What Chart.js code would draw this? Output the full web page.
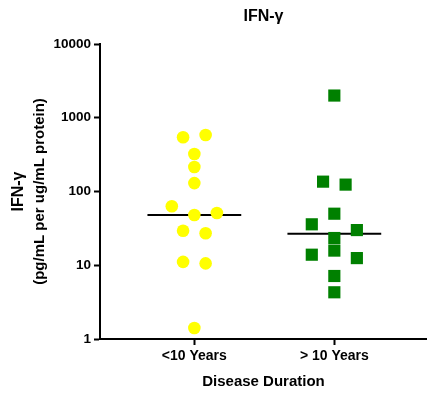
<!DOCTYPE html>
<html>
<head>
<meta charset="utf-8">
<style>
  html, body { margin: 0; padding: 0; background: #fff; }
  #wrap { width: 427px; height: 396px; position: relative; }
</style>
<script src="https://cdn.jsdelivr.net/npm/chart.js@4/dist/chart.umd.min.js"></script>
</head>
<body>
<div id="wrap"><canvas id="chart" width="427" height="396"></canvas></div>
<script>
// Groups along the x axis
const groups = ['<10 Years', '> 10 Years'];
// IFN-γ (pg/mL per ug/mL protein), one value per subject
const underTen = [543, 584, 322, 215, 130, 63, 48, 51, 29.4, 27.1, 11.1, 10.6, 1.41];
const overTen = [2000, 136, 124, 50, 35.9, 23.4, 30, 13.9, 15.8, 12.5, 7.15, 4.3];
// Group medians
const medians = [48, 26.7];
// Y tick values
const yTicks = [1, 10, 100, 1000, 10000];

const FONT = '"Liberation Sans", Arial, sans-serif';

// Column-scatter layout: points whose values sit close together on the
// log axis share a row and are spread sideways in entry order.
function spread(values, center) {
  const idx = values.map((v, i) => i).sort((a, b) => values[b] - values[a]);
  const rows = [];
  let row = [];
  idx.forEach((i, k) => {
    if (k > 0 && Math.log10(values[idx[k - 1]]) - Math.log10(values[i]) > 0.13) {
      rows.push(row); row = [];
    }
    row.push(i);
  });
  rows.push(row);
  const pts = new Array(values.length);
  const step = 0.161;
  rows.forEach(r => {
    const sorted = r.slice().sort((a, b) => a - b);
    const n = sorted.length;
    sorted.forEach((i, j) => {
      pts[i] = { x: center + (j - (n - 1) / 2) * step, y: values[i] };
    });
  });
  return pts;
}

function medianLine(center, value) {
  return [{ x: center - 0.335, y: value }, { x: center + 0.335, y: value }];
}

// Titles drawn on the canvas with their own fonts
const textPlugin = {
  id: 'texts',
  afterDraw(chart) {
    const { ctx, chartArea } = chart;
    const cx = (chartArea.left + chartArea.right) / 2;
    const cy = (chartArea.top + chartArea.bottom) / 2;
    ctx.save();
    ctx.fillStyle = '#000';
    ctx.textAlign = 'center';
    ctx.textBaseline = 'middle';
    ctx.font = 'bold 16px ' + FONT;
    ctx.fillText('IFN-γ', cx, 17);
    ctx.font = 'bold 15px ' + FONT;
    ctx.fillText('Disease Duration', cx, 382);
    ctx.translate(0, cy);
    ctx.rotate(-Math.PI / 2);
    ctx.font = 'bold 16px ' + FONT;
    ctx.fillText('IFN-γ', 0, 19);
    ctx.font = 'bold 15px ' + FONT;
    ctx.fillText('(pg/mL per ug/mL protein)', 0, 40);
    ctx.restore();
  }
};

new Chart(document.getElementById('chart'), {
  type: 'scatter',
  data: {
    datasets: [
      {
        data: spread(underTen, 1),
        backgroundColor: '#ffff00',
        borderColor: '#ffff00',
        borderWidth: 0,
        pointStyle: 'circle',
        pointRadius: 6.3,
        order: 0
      },
      {
        data: spread(overTen, 2),
        backgroundColor: '#008000',
        borderColor: '#008000',
        borderWidth: 0,
        pointStyle: 'rect',
        pointRadius: 8.6,
        order: 0
      },
      {
        type: 'line',
        data: medianLine(1, medians[0]),
        borderColor: '#000',
        borderWidth: 2,
        pointRadius: 0,
        order: 1
      },
      {
        type: 'line',
        data: medianLine(2, medians[1]),
        borderColor: '#000',
        borderWidth: 2,
        pointRadius: 0,
        order: 1
      }
    ]
  },
  options: {
    responsive: false,
    animation: false,
    layout: { autoPadding: false, padding: { top: 44, right: 0, left: 0, bottom: 0 } },
    plugins: {
      legend: { display: false },
      tooltip: { enabled: false }
    },
    scales: {
      x: {
        type: 'linear',
        min: 0.326,
        max: 2.662,
        afterBuildTicks(scale) { scale.ticks = [{ value: 1 }, { value: 2 }]; },
        afterFit(scale) {
          scale.height = 57;
          scale.paddingLeft = 0;
          scale.paddingRight = 0;
        },
        ticks: {
          color: '#000',
          font: { family: FONT, size: 14, weight: 'bold' },
          padding: 3,
          maxRotation: 0,
          callback: (v) => groups[Math.round(v) - 1]
        },
        grid: { drawOnChartArea: false, drawTicks: true, tickLength: 6, tickWidth: 2, tickColor: '#000' },
        border: { display: true, color: '#000', width: 2 }
      },
      y: {
        type: 'logarithmic',
        min: 1,
        max: 10000,
        afterBuildTicks(scale) { scale.ticks = yTicks.map(v => ({ value: v })); },
        afterFit(scale) { scale.width = 100; },
        ticks: {
          color: '#000',
          font: { family: FONT, size: 13.5, weight: 'bold' },
          padding: 3,
          callback: (v) => String(v)
        },
        grid: { drawOnChartArea: false, drawTicks: true, tickLength: 6, tickWidth: 2, tickColor: '#000' },
        border: { display: true, color: '#000', width: 2 }
      }
    }
  },
  plugins: [textPlugin]
});
</script>
</body>
</html>
